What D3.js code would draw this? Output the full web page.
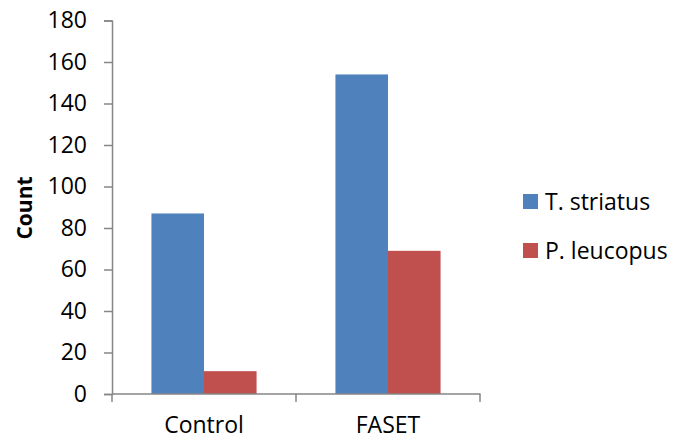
<!DOCTYPE html>
<html>
<head>
<meta charset="utf-8">
<script src="https://d3js.org/d3.v7.min.js"></script>
<style>
  body { margin: 0; background: #fff; }
  text { font-family: "Open Sans", sans-serif; fill: #000; }
</style>
</head>
<body>
<div id="chart"></div>
<script>
        // Data
        const categories = ["Control", "FASET"];
        const series = ["T. striatus", "P. leucopus"];
        const striatus = [87, 154];
        const leucopus = [11, 69];
        const yTicks = [0, 20, 40, 60, 80, 100, 120, 140, 160, 180];
        const colors = ["#4f81bd", "#c0504d"];

        const values = [striatus, leucopus];

        const svg = d3.select("#chart")
            .append("svg")
            .attr("width", 673)
            .attr("height", 440);

        const x0 = d3.scaleBand()
            .domain(categories)
            .range([112, 480])
            .padding(0);

        const x1 = d3.scaleBand()
            .domain(series)
            .range([0, x0.bandwidth()])
            .paddingInner(0)
            .paddingOuter(0.75);

        const y = d3.scaleLinear()
            .domain([0, 180])
            .range([394, 20.5]);

        // Bars
        series.forEach((s, si) => {
            svg.append("g")
                .selectAll("rect")
                .data(categories)
                .join("rect")
                .attr("x", (c) => x0(c) + x1(s))
                .attr("y", (c, i) => y(values[si][i]))
                .attr("width", x1.bandwidth())
                .attr("height", (c, i) => y(0) - y(values[si][i]))
                .attr("fill", colors[si]);
        });

        // Y axis
        const yAxis = svg.append("g")
            .attr("transform", "translate(112,0)")
            .call(d3.axisLeft(y).tickValues(yTicks).tickSize(8).tickPadding(17));
        yAxis.select(".domain").attr("stroke", "#868686").attr("stroke-width", 1.5);
        yAxis.selectAll(".tick line").attr("stroke", "#868686").attr("stroke-width", 1.5);
        yAxis.selectAll(".tick text")
            .attr("font-size", 23)
            .attr("font-family", "Open Sans, sans-serif")
            .attr("fill", "#000");

        // X axis with ticks at band boundaries
        const xAxis = svg.append("g")
            .attr("transform", "translate(0,394)");
        xAxis.append("line")
            .attr("x1", 112).attr("x2", 480.5)
            .attr("stroke", "#868686").attr("stroke-width", 1.5);
        xAxis.selectAll(".cat-tick")
            .data([112, ...categories.map(c => x0(c) + x0.bandwidth())])
            .join("line")
            .attr("class", "cat-tick")
            .attr("x1", d => d).attr("x2", d => d)
            .attr("y1", 0).attr("y2", 8)
            .attr("stroke", "#868686").attr("stroke-width", 1.5);
        xAxis.selectAll(".cat-label")
            .data(categories)
            .join("text")
            .attr("class", "cat-label")
            .attr("x", c => x0(c) + x0.bandwidth() / 2)
            .attr("y", 39)
            .attr("text-anchor", "middle")
            .attr("font-size", 23)
            .text(c => c);

        // Y axis title
        svg.append("text")
            .attr("transform", "translate(32,208) rotate(-90)")
            .attr("text-anchor", "middle")
            .attr("font-size", 21)
            .attr("font-weight", "bold")
            .text("Count");

        // Legend
        const legend = svg.append("g")
            .selectAll("g")
            .data(series)
            .join("g")
            .attr("transform", (d, i) => `translate(523,${194 + i * 49})`);
        legend.append("rect")
            .attr("width", 15)
            .attr("height", 15)
            .attr("fill", (d, i) => colors[i]);
        legend.append("text")
            .attr("x", 22)
            .attr("y", 16)
            .attr("font-size", 23)
            .text(d => d);
</script>
</body>
</html>
